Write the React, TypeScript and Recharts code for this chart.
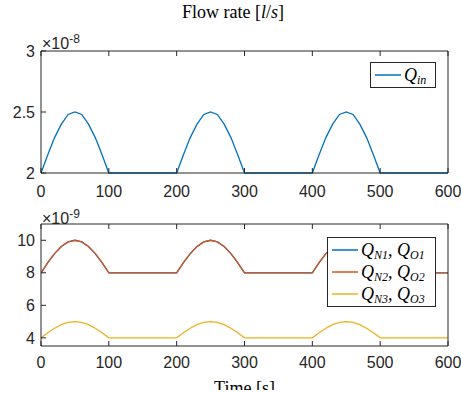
import { LineChart, Line, XAxis, YAxis, Legend } from 'recharts';

// time axis [s]
const time = [
  0, 10, 20, 30, 40, 50, 60, 70, 80, 90, 100,
  200, 210, 220, 230, 240, 250, 260, 270, 280, 290, 300,
  400, 410, 420, 430, 440, 450, 460, 470, 480, 490, 500,
  600,
];

// inflow, x 1e-8 l/s
const qIn = [
  2.0, 2.15, 2.29, 2.4, 2.48, 2.5, 2.48, 2.4, 2.29, 2.15, 2.0,
  2.0, 2.15, 2.29, 2.4, 2.48, 2.5, 2.48, 2.4, 2.29, 2.15, 2.0,
  2.0, 2.15, 2.29, 2.4, 2.48, 2.5, 2.48, 2.4, 2.29, 2.15, 2.0,
  2.0,
];

// node / outlet flows, x 1e-9 l/s
const qN1 = [
  8.0, 8.62, 9.18, 9.62, 9.9, 10.0, 9.9, 9.62, 9.18, 8.62, 8.0,
  8.0, 8.62, 9.18, 9.62, 9.9, 10.0, 9.9, 9.62, 9.18, 8.62, 8.0,
  8.0, 8.62, 9.18, 9.62, 9.9, 10.0, 9.9, 9.62, 9.18, 8.62, 8.0,
  8.0,
];
const qN2 = [
  8.0, 8.62, 9.18, 9.62, 9.9, 10.0, 9.9, 9.62, 9.18, 8.62, 8.0,
  8.0, 8.62, 9.18, 9.62, 9.9, 10.0, 9.9, 9.62, 9.18, 8.62, 8.0,
  8.0, 8.62, 9.18, 9.62, 9.9, 10.0, 9.9, 9.62, 9.18, 8.62, 8.0,
  8.0,
];
const qN3 = [
  4.0, 4.31, 4.59, 4.81, 4.95, 5.0, 4.95, 4.81, 4.59, 4.31, 4.0,
  4.0, 4.31, 4.59, 4.81, 4.95, 5.0, 4.95, 4.81, 4.59, 4.31, 4.0,
  4.0, 4.31, 4.59, 4.81, 4.95, 5.0, 4.95, 4.81, 4.59, 4.31, 4.0,
  4.0,
];

const xTicks = [0, 100, 200, 300, 400, 500, 600];
const topTicks = [2, 2.5, 3];
const bottomTicks = [4, 6, 8, 10];

const seriesColors: Record<string, string> = {
  'Q_{in}': '#0072BD',
  'Q_{N1}, Q_{O1}': '#0072BD',
  'Q_{N2}, Q_{O2}': '#D95319',
  'Q_{N3}, Q_{O3}': '#EDB120',
};

const axisColor = '#262626';
const tickFont = { fontSize: 16, fill: axisColor, fontFamily: 'Liberation Sans, Arial, sans-serif' };
const serif = '"Liberation Serif", "Times New Roman", serif';

const topData = time.map((t, i) => ({ t, qIn: qIn[i] }));
const bottomData = time.map((t, i) => ({ t, qN1: qN1[i], qN2: qN2[i], qN3: qN3[i] }));

// turn "Q_{N1}, Q_{O1}" into italic Q with subscripts
const texLabel = (s: string) =>
  s.split(/(_\{[^}]*\})/).map((part, i) =>
    part.startsWith('_{') ? (
      <sub key={i} style={{ fontSize: 12, fontStyle: 'italic', verticalAlign: '-3px', lineHeight: 0 }}>
        {part.slice(2, -1)}
      </sub>
    ) : (
      <i key={i}>{part}</i>
    )
  );

const LegendBox = ({ payload }: any) => (
  <div
    style={{
      border: `1px solid ${axisColor}`,
      background: '#fff',
      padding: '1px 4px 1px 4px',
      fontFamily: serif,
      fontSize: 18,
      lineHeight: '21px',
    }}
  >
    {(payload || []).map((p: any) => (
      <div key={p.value} style={{ display: 'flex', alignItems: 'center', whiteSpace: 'nowrap', height: 22 }}>
        <svg width={26} height={4} style={{ marginRight: 3 }}>
          <line x1={0} y1={2} x2={26} y2={2} stroke={seriesColors[p.value] || p.color} strokeWidth={1.5} />
        </svg>
        <span>{texLabel(p.value)}</span>
      </div>
    ))}
  </div>
);

const Exponent = ({ exp, top }: { exp: string; top: number }) => (
  <div style={{ position: 'absolute', left: 42, top, fontFamily: tickFont.fontFamily, fontSize: 16, color: axisColor, lineHeight: '16px' }}>
    ×10<sup style={{ fontSize: 12, verticalAlign: '6px' }}>{exp}</sup>
  </div>
);

const commonX = {
  dataKey: 't',
  type: 'number' as const,
  domain: [0, 600],
  ticks: xTicks,
  allowDataOverflow: true,
  stroke: axisColor,
  tickSize: -5,
};

export default function App() {
  return (
    <div style={{ position: 'absolute', left: 0, top: 0, width: 461, height: 390, overflow: 'hidden', background: '#fff' }}>
      <div style={{ position: 'absolute', left: 0, top: 2, width: 466, textAlign: 'center', fontFamily: serif, fontSize: 18, color: '#000' }}>
        Flow rate [<i>l</i>/<i>s</i>]
      </div>
      <Exponent exp="-8" top={31} />
      <Exponent exp="-9" top={206} />

      <div style={{ position: 'absolute', left: 0, top: 0 }}>
        <LineChart width={461} height={200} data={topData} margin={{ top: 50, right: 12, bottom: 0, left: 0 }}>
          <XAxis {...commonX} height={27} tick={tickFont} tickMargin={18} />
          <XAxis {...commonX} xAxisId="top" orientation="top" height={1} tickFormatter={() => ''} />
          <YAxis type="number" domain={[2, 3]} ticks={topTicks} width={41} stroke={axisColor} tickSize={-5} tickMargin={11} tick={tickFont} />
          <YAxis yAxisId="r" orientation="right" type="number" domain={[2, 3]} ticks={topTicks} width={1} stroke={axisColor} tickSize={-5} tickFormatter={() => ''} />
          <Legend
            layout="vertical"
            align="center"
            verticalAlign="middle"
            content={<LegendBox />}
            wrapperStyle={{ left: 370, top: 62, width: 66 }}
          />
          <Line type="linear" dataKey="qIn" name="Q_{in}" stroke="#0072BD" strokeWidth={1.3} dot={false} isAnimationActive={false} />
        </LineChart>
      </div>

      <div style={{ position: 'absolute', left: 0, top: 200 }}>
        <LineChart width={461} height={193} data={bottomData} margin={{ top: 23, right: 12, bottom: 0, left: 0 }}>
          <XAxis
            {...commonX}
            height={47}
            tick={tickFont}
            tickMargin={16}
            label={{ value: 'Time [s]', position: 'insideBottom', offset: -1, fill: '#000', fontSize: 18, fontFamily: serif }}
          />
          <XAxis {...commonX} xAxisId="top" orientation="top" height={1} tickFormatter={() => ''} />
          <YAxis type="number" domain={[3.5, 11]} ticks={bottomTicks} width={41} stroke={axisColor} tickSize={-5} tickMargin={11} tick={tickFont} />
          <YAxis yAxisId="r" orientation="right" type="number" domain={[3.5, 11]} ticks={bottomTicks} width={1} stroke={axisColor} tickSize={-5} tickFormatter={() => ''} />
          <Legend
            layout="vertical"
            align="center"
            verticalAlign="middle"
            content={<LegendBox />}
            wrapperStyle={{ left: 327, top: 37, width: 109 }}
          />
          <Line type="linear" dataKey="qN1" name="Q_{N1}, Q_{O1}" stroke="#0072BD" strokeWidth={1.3} dot={false} isAnimationActive={false} />
          <Line type="linear" dataKey="qN2" name="Q_{N2}, Q_{O2}" stroke="#D95319" strokeWidth={1.3} dot={false} isAnimationActive={false} />
          <Line type="linear" dataKey="qN3" name="Q_{N3}, Q_{O3}" stroke="#EDB120" strokeWidth={1.3} dot={false} isAnimationActive={false} />
        </LineChart>
      </div>
    </div>
  );
}
